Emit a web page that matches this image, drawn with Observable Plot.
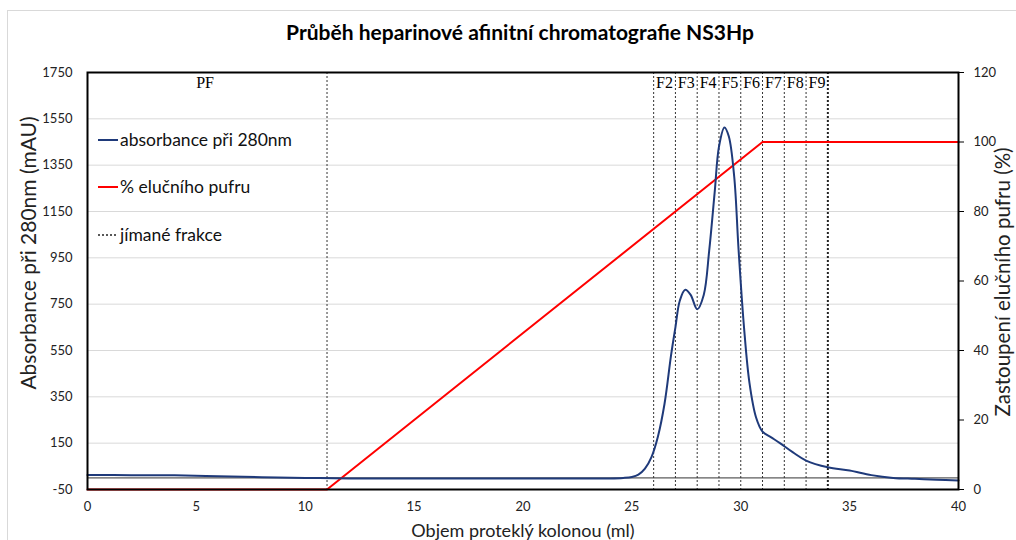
<!DOCTYPE html>
<html><head><meta charset="utf-8">
<script src="https://cdn.jsdelivr.net/npm/d3@7"></script>
<script src="https://cdn.jsdelivr.net/npm/@observablehq/plot@0.6"></script>
<style>body{margin:0;background:#fff;}</style>
</head><body><div id="chart"></div>
<script>
const titleText = "Průběh heparinové afinitní chromatografie NS3Hp";
const xLabel = "Objem proteklý kolonou (ml)";
const yLabelLeft = "Absorbance při 280nm (mAU)";
const yLabelRight = "Zastoupení elučního pufru (%)";

const volume =     [0, 2, 4, 6, 8, 10, 12, 15, 18, 20, 22, 24, 24.6, 25.0, 25.3, 25.6, 25.9, 26.2, 26.5, 26.8, 27.0, 27.2, 27.45, 27.7, 28.0, 28.3, 28.55, 28.8, 29.0, 29.25, 29.45, 29.7, 29.9, 30.15, 30.4, 30.7, 31.0, 31.4, 31.8, 32.4, 33.0, 34.0, 35.0, 36.0, 37.0, 38.0, 39.0, 40.0];
const absorbance = [13, 12, 11, 7, 3, 0, -2, -2, -2, -2, -2, -2, 0, 4, 14, 40, 90, 180, 320, 530, 650, 765, 812, 790, 728, 790, 980, 1230, 1430, 1513, 1475, 1300, 985, 650, 410, 262, 200, 175, 150, 110, 75, 46, 32, 12, 0, -4, -8, -11];

const bufferVolume = [0, 11, 31, 40];
const bufferPercent = [0, 0, 100, 100];

const fractionBounds = [11, 26, 27, 28, 29, 30, 31, 32, 33];
const fractionEnd = [34];
const fractionLabels = ["PF", "F2", "F3", "F4", "F5", "F6", "F7", "F8", "F9"];
const fractionCenters = [5.4, 26.5, 27.5, 28.5, 29.5, 30.5, 31.5, 32.5, 33.5];

const leftTicks = [-50, 150, 350, 550, 750, 950, 1150, 1350, 1550, 1750];
const rightTicks = [0, 20, 40, 60, 80, 100, 120];
const xTicks = [0, 5, 10, 15, 20, 25, 30, 35, 40];

const legendLabels = ["absorbance při 280nm", "% elučního pufru", "jímané frakce"];

const Y0 = -50, Y1 = 1750, P1 = 120;
const toLeft = p => Y0 + p * (Y1 - Y0) / P1;
const toPct = v => Math.round((v - Y0) * P1 / (Y1 - Y0));

const absData = volume.map((v, i) => ({v, a: absorbance[i]}));
const bufData = bufferVolume.map((v, i) => ({v, p: toLeft(bufferPercent[i])}));
const fracData = fractionLabels.map((l, i) => ({label: l, x: fractionCenters[i]}));

const sans = "Lato, 'Open Sans', sans-serif";

const plot = Plot.plot({
  width: 1016, height: 540,
  marginLeft: 87, marginRight: 58, marginTop: 72, marginBottom: 51,
  style: {fontFamily: sans, fontSize: "13px", background: "white", color: "#222"},
  x: {domain: [0, 40], label: null},
  y: {domain: [Y0, Y1], label: null},
  marks: [
    Plot.ruleY(leftTicks, {stroke: "#d9d9d9", strokeWidth: 1}),
    Plot.ruleY([0], {stroke: "#333", strokeWidth: 1}),
    Plot.ruleX(fractionBounds, {stroke: "#333", strokeDasharray: "2,2", strokeWidth: 1}),
    Plot.ruleX(fractionEnd, {stroke: "#222", strokeDasharray: "2,2", strokeWidth: 2}),
    Plot.line(bufData, {x: "v", y: "p", stroke: "#ff0000", strokeWidth: 2}),
    Plot.line(absData, {x: "v", y: "a", stroke: "#1f3a7a", strokeWidth: 2, curve: "catmull-rom"}),
    Plot.axisX({ticks: xTicks, tickSize: 0, tickPadding: 12, label: null, fontSize: 13}),
    Plot.axisY({ticks: leftTicks, tickFormat: d => String(d), tickSize: 0, tickPadding: 15, label: null, fontSize: 13}),
    Plot.axisY({anchor: "right", ticks: rightTicks.map(toLeft), tickFormat: toPct, tickSize: 5, tickPadding: 10, label: null, fontSize: 13, stroke: "#000"}),
    Plot.frame({stroke: "#000", strokeWidth: 2}),
    Plot.text(fracData, {x: "x", text: "label", frameAnchor: "top", lineAnchor: "middle", dy: 10, fontFamily: "'Liberation Serif', serif", fontSize: 16, fill: "#000"}),
    Plot.text([titleText], {frameAnchor: "top", textAnchor: "middle", lineAnchor: "middle", dy: -39, dx: -3, fontWeight: "bold", fontSize: 21, fill: "#000"}),
    Plot.text([xLabel], {frameAnchor: "bottom", textAnchor: "middle", lineAnchor: "middle", dy: 42, fontSize: 18, fill: "#222"}),
    Plot.text([yLabelLeft], {frameAnchor: "left", textAnchor: "middle", rotate: -90, dx: -58, dy: -28, fontSize: 21, fill: "#222"}),
    Plot.text([yLabelRight], {frameAnchor: "right", textAnchor: "middle", rotate: -90, dx: 45, dy: 1, fontSize: 20.5, fill: "#222"})
  ]
});

document.getElementById("chart").appendChild(plot);

// chart-area border and legend (decoration)
const svg = d3.select(plot);
svg.insert("rect", ":first-child").attr("x", 7.5).attr("y", 10.5).attr("width", 1100).attr("height", 700)
  .attr("fill", "none").attr("stroke", "#d9d9d9");
const legendStyles = [
  {stroke: "#1f3a7a", dash: null, w: 2},
  {stroke: "#ff0000", dash: null, w: 2},
  {stroke: "#222", dash: "2,2", w: 1.5}
];
const legendY = [140, 187, 235];
const lg = svg.append("g");
legendLabels.forEach((t, i) => {
  lg.append("line").attr("x1", 98).attr("x2", 118).attr("y1", legendY[i]).attr("y2", legendY[i])
    .attr("stroke", legendStyles[i].stroke).attr("stroke-width", legendStyles[i].w)
    .attr("stroke-dasharray", legendStyles[i].dash);
  lg.append("text").attr("x", 120).attr("y", legendY[i]).attr("dy", "0.35em")
    .attr("text-anchor", "start")
    .attr("font-size", 17.5).attr("font-family", sans).attr("fill", "#111").text(t);
});
</script>
</body></html>
